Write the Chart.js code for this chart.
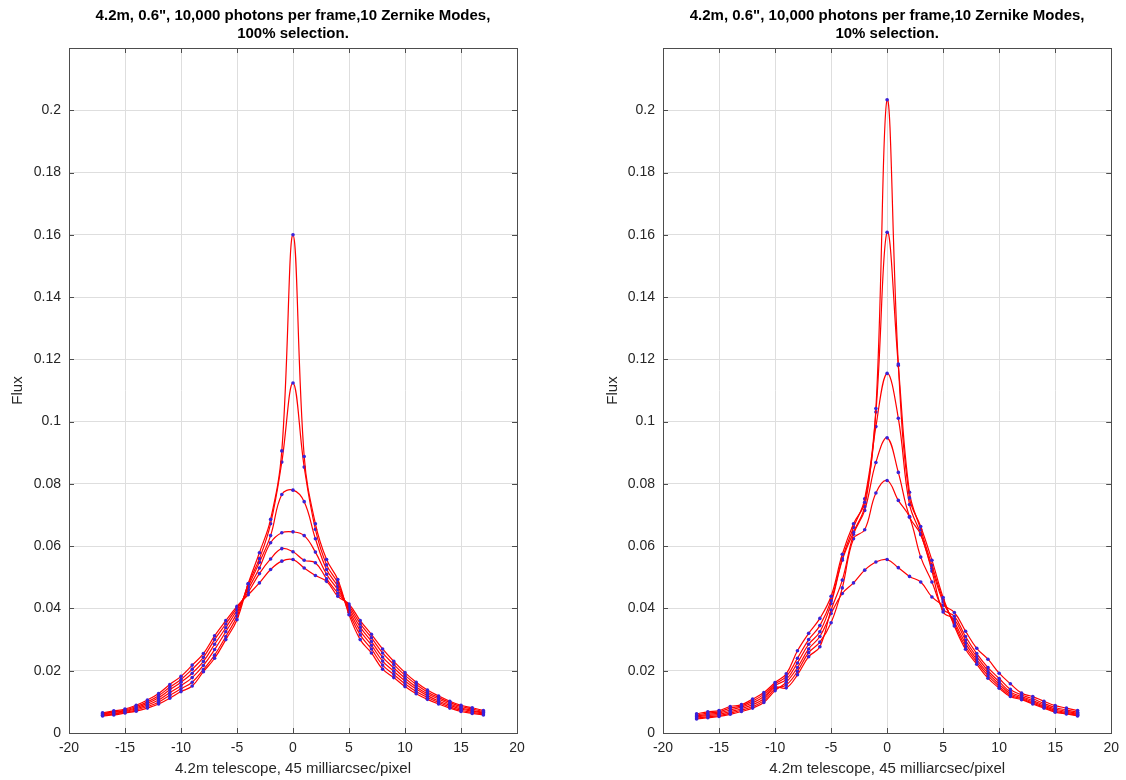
<!DOCTYPE html>
<html>
<head>
<meta charset="utf-8">
<script src="https://cdn.jsdelivr.net/npm/chart.js@4.4.1/dist/chart.umd.min.js"></script>
<style>
  body { margin: 0; background: #fff; width: 1126px; height: 780px; position: relative; overflow: hidden; }
  canvas { position: absolute; top: 0; }
</style>
</head>
<body>
<canvas id="left" width="545" height="780" style="left:0px"></canvas>
<canvas id="right" width="531" height="780" style="left:595px"></canvas>
<script>
// pixel offsets, -17 .. 17
const xVals = [-17, -16, -15, -14, -13, -12, -11, -10, -9, -8, -7, -6, -5, -4, -3, -2, -1, 0,
  1, 2, 3, 4, 5, 6, 7, 8, 9, 10, 11, 12, 13, 14, 15, 16, 17];

const xTitle = '4.2m telescope, 45 milliarcsec/pixel';
const yTitle = 'Flux';
const titleAll = ['4.2m, 0.6", 10,000 photons per frame,10 Zernike Modes,', '100% selection.'];
const titleTen = ['4.2m, 0.6", 10,000 photons per frame,10 Zernike Modes,', '10% selection.'];

// 100% selection panel
const allA = [.0055, .0058, .0064, .0070, .0080, .0093, .0112, .0133, .0151, .0197, .0240, .0300, .0364, .0480, .0579, .0686, .0906, .1600,
  .0888, .0672, .0557, .0493, .0380, .0300, .0257, .0205, .0178, .0149, .0126, .0108, .0093, .0080, .0069, .0063, .0058];
const allB = [.0057, .0061, .0066, .0074, .0085, .0099, .0121, .0142, .0163, .0204, .0250, .0310, .0375, .0478, .0560, .0672, .0870, .1124,
  .0854, .0654, .0540, .0482, .0388, .0315, .0270, .0218, .0188, .0158, .0133, .0114, .0098, .0084, .0073, .0066, .0061];
const allC = [.0059, .0063, .0069, .0078, .0090, .0106, .0130, .0152, .0178, .0217, .0268, .0325, .0385, .0470, .0548, .0634, .0766, .0780,
  .0743, .0624, .0525, .0471, .0395, .0328, .0282, .0231, .0198, .0167, .0141, .0120, .0103, .0089, .0077, .0070, .0064];
const allD = [.0061, .0066, .0071, .0081, .0095, .0113, .0139, .0163, .0192, .0230, .0285, .0338, .0395, .0462, .0530, .0611, .0643, .0646,
  .0634, .0581, .0510, .0460, .0402, .0340, .0294, .0244, .0209, .0176, .0148, .0126, .0109, .0093, .0081, .0073, .0066];
const allE = [.0063, .0068, .0074, .0085, .0100, .0120, .0147, .0172, .0205, .0243, .0300, .0350, .0402, .0452, .0512, .0559, .0592, .0582,
  .0555, .0547, .0495, .0449, .0408, .0351, .0306, .0257, .0220, .0185, .0156, .0132, .0114, .0098, .0085, .0077, .0069];
const allF = [.0065, .0071, .0077, .0089, .0106, .0127, .0156, .0182, .0218, .0255, .0312, .0361, .0407, .0444, .0482, .0525, .0552, .0557,
  .0530, .0506, .0487, .0439, .0414, .0361, .0317, .0270, .0230, .0194, .0163, .0138, .0119, .0102, .0089, .0081, .0072];

// 10% selection panel
const tenA = [.0062, .0068, .0072, .0085, .0091, .0109, .0130, .0162, .0190, .0264, .0320, .0368, .0439, .0574, .0672, .0741, .1042, .2034,
  .1185, .0755, .0663, .0555, .0435, .0344, .0269, .0221, .0176, .0144, .0117, .0107, .0093, .0080, .0067, .0061, .0055];
const tenB = [.0058, .0064, .0068, .0080, .0087, .0103, .0124, .0157, .0181, .0240, .0300, .0345, .0425, .0560, .0660, .0752, .1031, .1608,
  .1180, .0773, .0653, .0539, .0428, .0350, .0278, .0228, .0184, .0150, .0121, .0110, .0096, .0083, .0070, .0063, .0057];
const tenC = [.0055, .0060, .0064, .0074, .0083, .0097, .0117, .0152, .0172, .0225, .0285, .0325, .0416, .0555, .0645, .0727, .0984, .1155,
  .1011, .0734, .0640, .0528, .0421, .0357, .0288, .0236, .0192, .0157, .0126, .0113, .0100, .0086, .0073, .0066, .0060];
const tenD = [.0052, .0056, .0060, .0069, .0078, .0091, .0110, .0147, .0145, .0187, .0245, .0277, .0395, .0491, .0638, .0715, .0869, .0948,
  .0837, .0695, .0637, .0520, .0389, .0365, .0298, .0245, .0200, .0165, .0132, .0117, .0104, .0090, .0077, .0070, .0063];
const tenE = [.0048, .0052, .0056, .0064, .0073, .0085, .0104, .0141, .0154, .0198, .0258, .0292, .0354, .0466, .0624, .0653, .0771, .0811,
  .0747, .0693, .0565, .0485, .0397, .0375, .0310, .0255, .0210, .0175, .0140, .0122, .0110, .0095, .0082, .0074, .0067];
const tenF = [.0045, .0049, .0053, .0060, .0069, .0080, .0098, .0136, .0163, .0210, .0270, .0310, .0384, .0448, .0482, .0523, .0549, .0557,
  .0531, .0503, .0485, .0437, .0410, .0387, .0327, .0272, .0237, .0192, .0158, .0128, .0117, .0102, .0088, .0080, .0072];

Chart.defaults.font.family = '"Liberation Sans", Arial, Helvetica, sans-serif';

// box around the axes, inward ticks and the two-line bold title (matlab look)
const frame = {
  id: 'frame',
  afterDraw(chart, args, opts) {
    const { ctx, chartArea: a, scales: { x, y } } = chart;
    ctx.save();
    ctx.strokeStyle = '#4d4d4d';
    ctx.lineWidth = 1;
    ctx.strokeRect(Math.round(a.left) + 0.5, Math.round(a.top) + 0.5,
      Math.round(a.right - a.left), Math.round(a.bottom - a.top));
    ctx.beginPath();
    x.ticks.forEach(t => {
      const px = Math.round(x.getPixelForValue(t.value)) + 0.5;
      ctx.moveTo(px, a.bottom); ctx.lineTo(px, a.bottom - 5);
      ctx.moveTo(px, a.top); ctx.lineTo(px, a.top + 5);
    });
    y.ticks.forEach(t => {
      const py = Math.round(y.getPixelForValue(t.value)) + 0.5;
      ctx.moveTo(a.left, py); ctx.lineTo(a.left + 5, py);
      ctx.moveTo(a.right, py); ctx.lineTo(a.right - 5, py);
    });
    ctx.stroke();

    ctx.fillStyle = '#000';
    ctx.font = 'bold 15px "Liberation Sans", Arial, sans-serif';
    ctx.textAlign = 'center';
    ctx.textBaseline = 'middle';
    const cx = (a.left + a.right) / 2;
    opts.lines.forEach((line, i) => ctx.fillText(line, cx, 16 + i * 18));
    ctx.restore();
  }
};

function makeSets(series) {
  return series.map(vals => ({
    data: vals.map((v, i) => ({ x: xVals[i], y: v })),
    borderColor: '#ff0000',
    borderWidth: 1.2,
    tension: 0.4,
    fill: false,
    pointRadius: 1.8,
    pointBorderWidth: 0,
    pointBackgroundColor: '#3a22d8'
  }));
}

function build(id, title, series, yWidth, padRight) {
  new Chart(document.getElementById(id), {
    type: 'line',
    data: { datasets: makeSets(series) },
    options: {
      responsive: false,
      animation: false,
      events: [],
      layout: { padding: { top: 48, right: padRight, bottom: 0, left: 0 } },
      plugins: {
        legend: { display: false },
        tooltip: { enabled: false },
        frame: { lines: title }
      },
      scales: {
        x: {
          type: 'linear',
          min: -20,
          max: 20,
          ticks: { stepSize: 5, color: '#262626', font: { size: 14 }, padding: 7, maxRotation: 0 },
          grid: { color: '#dedede', drawTicks: false },
          border: { display: false },
          title: { display: true, text: xTitle, color: '#262626', font: { size: 15 }, padding: { top: 0, bottom: 2 } },
          afterFit: s => { s.height = 47; }
        },
        y: {
          min: 0,
          max: 0.22,
          ticks: {
            stepSize: 0.02,
            color: '#262626',
            font: { size: 14 },
            padding: 8,
            callback: v => (v > 0.21 ? '' : String(+v.toFixed(2)))
          },
          grid: { color: '#dedede', drawTicks: false },
          border: { display: false },
          title: { display: true, text: yTitle, color: '#262626', font: { size: 15 }, padding: { top: 9, bottom: 0 } },
          afterFit: s => { s.width = yWidth; }
        }
      }
    },
    plugins: [frame]
  });
}

build('left', titleAll, [allA, allB, allC, allD, allE, allF], 69, 28);
build('right', titleTen, [tenA, tenB, tenC, tenD, tenE, tenF], 68, 14);
</script>
</body>
</html>
